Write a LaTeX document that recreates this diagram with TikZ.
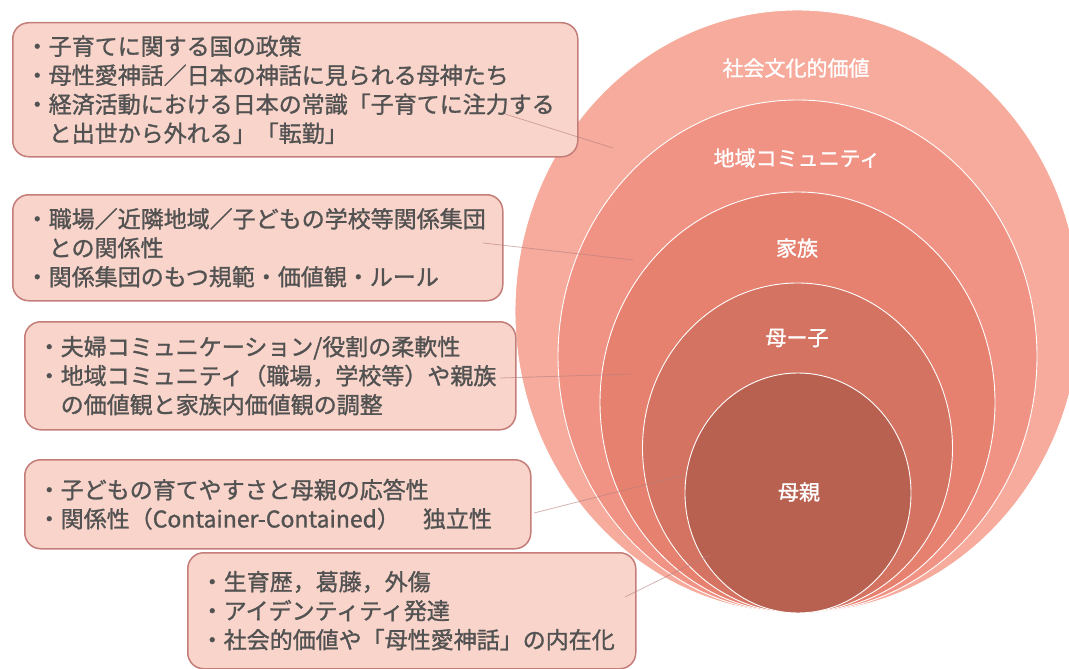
\documentclass[tikz,border=0pt]{standalone}
\usepackage{fontspec}
\newfontfamily\jp{Noto Sans CJK JP}[FakeBold=1.2]
\definecolor{ringA}{HTML}{F6AB9C}
\definecolor{ringB}{HTML}{F09385}
\definecolor{ringC}{HTML}{E6806F}
\definecolor{ringD}{HTML}{D47361}
\definecolor{ringE}{HTML}{B96151}
\definecolor{boxfill}{HTML}{F8D4CA}
\definecolor{boxline}{HTML}{C47D78}
\definecolor{txtgray}{HTML}{525252}
\definecolor{conncol}{HTML}{B77F7F}
\begin{document}
\begin{tikzpicture}[x=1pt,y=-1pt,
  ring/.style={fill=#1, draw=white, line width=0.9pt},
  lab/.style={text=white, font=\jp\fontsize{21}{24}\selectfont, inner sep=0pt},
  infobox/.style={draw=boxline, fill=boxfill, line width=1.5pt, rounded corners=16pt,
    inner xsep=13pt, inner ysep=0pt, align=left, text=txtgray, anchor=north west,
    font=\jp\fontsize{23}{29}\selectfont},
  link/.style={draw=conncol, line width=0.8pt, opacity=0.6}]
\clip (0,0) rectangle (1069,669);
% nested ellipses
\filldraw[ring=ringA] (797.5,311.5) ellipse [x radius=282.5, y radius=301.5];
\filldraw[ring=ringB] (797.5,356.5) ellipse [x radius=239.5, y radius=256.5];
\filldraw[ring=ringC] (797.5,402.5) ellipse [x radius=197.5, y radius=210.5];
\filldraw[ring=ringD] (797.5,448) ellipse [x radius=155, y radius=165];
\filldraw[ring=ringE] (798,493) ellipse [x radius=113, y radius=120];
% ellipse labels
\node[lab] (l1) at (796,68) {社会文化的価値};
\node[lab] (l2) at (797,158) {地域コミュニティ};
\node[lab] (l3) at (797,248) {家族};
\node[lab] (l4) at (797,338) {母ー子};
\node[lab] (l5) at (799,492) {母親};
% boxes
\node[infobox, minimum width=565pt, minimum height=134pt, text width=539pt] (b1) at (12,22)
  {・子育てに関する国の政策\\
   ・母性愛神話／日本の神話に見られる母神たち\\
   ・経済活動における日本の常識「子育てに注力する\\
   \hspace*{1em}と出世から外れる」「転勤」};
\node[infobox, minimum width=490pt, minimum height=106pt, text width=464pt] (b2) at (12,194)
  {・職場／近隣地域／子どもの学校等関係集団\\
   \hspace*{1em}との関係性\\
   ・関係集団のもつ規範・価値観・ルール};
\node[infobox, minimum width=491pt, minimum height=108pt, text width=465pt] (b3) at (24,321)
  {・夫婦コミュニケーション/役割の柔軟性\\
   ・地域コミュニティ（職場，学校等）や親族\\
   \hspace*{1em}の価値観と家族内価値観の調整};
\node[infobox, minimum width=506pt, minimum height=89pt, text width=480pt] (b4) at (24,459)
  {・子どもの育てやすさと母親の応答性\\
   ・関係性（Container-Contained）　独立性};
\node[infobox, minimum width=448pt, minimum height=116pt, text width=422pt] (b5) at (187,552)
  {・生育歴，葛藤，外傷\\
   ・アイデンティティ発達\\
   ・社会的価値や「母性愛神話」の内在化};
% connectors
\coordinate (s1) at (505,114); \coordinate (e1) at (613,148);
\coordinate (s2) at (483,243); \coordinate (e2) at (633,260);
\coordinate (s3) at (500,378); \coordinate (e3) at (633,374);
\coordinate (s4) at (534,513); \coordinate (e4) at (684,475);
\coordinate (s5) at (625,597); \coordinate (e5) at (710,555);
\draw[link] (s1) -- (e1);
\draw[link] (s2) -- (e2);
\draw[link] (s3) -- (e3);
\draw[link] (s4) -- (e4);
\draw[link] (s5) -- (e5);
\end{tikzpicture}
\end{document}
